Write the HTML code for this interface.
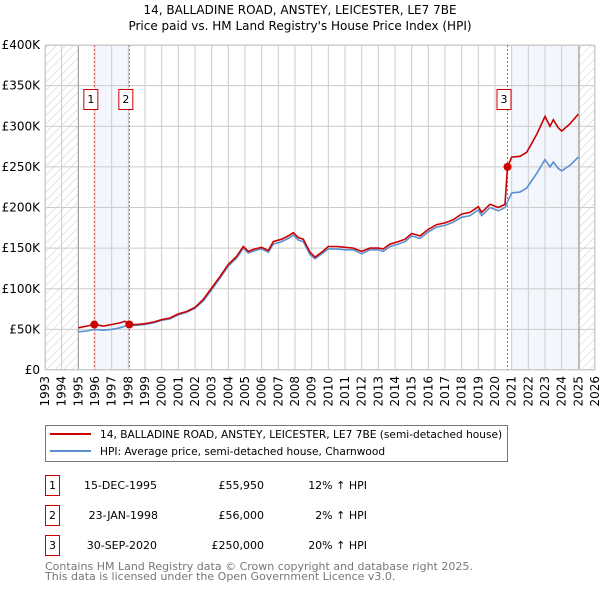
<!DOCTYPE html>
<html><head><meta charset="utf-8"><style>
body{margin:0;background:#fff;}
svg{display:block;font-family:"DejaVu Sans","Liberation Sans",sans-serif;}
</style></head><body>
<svg id="c" width="600" height="590" xmlns="http://www.w3.org/2000/svg">
<defs><pattern id="hatch" width="6" height="6" patternUnits="userSpaceOnUse" patternTransform="rotate(45)"><line x1="0" y1="0" x2="0" y2="6" stroke="#ccc" stroke-width="1"/></pattern></defs>
<text x="300" y="14" text-anchor="middle" font-size="12">14, BALLADINE ROAD, ANSTEY, LEICESTER, LE7 7BE</text>
<text x="300" y="30" text-anchor="middle" font-size="12">Price paid vs. HM Land Registry's House Price Index (HPI)</text>
<g id="plot"></g>
<g>
<rect x="45.5" y="425.5" width="462" height="36" fill="#fff" stroke="#777"/>
<line x1="50" y1="434" x2="91" y2="434" stroke="#cc0000" stroke-width="2"/>
<text x="100" y="438" font-size="10.6">14, BALLADINE ROAD, ANSTEY, LEICESTER, LE7 7BE (semi-detached house)</text>
<line x1="50" y1="451" x2="91" y2="451" stroke="#5b8fd0" stroke-width="2"/>
<text x="100" y="455" font-size="10.6">HPI: Average price, semi-detached house, Charnwood</text>
</g>
<g font-size="11">
<rect x="45.5" y="475.5" width="14" height="20" fill="#fff" stroke="#cc0000"/>
<text x="52.5" y="489" text-anchor="middle">1</text>
<text x="157" y="489" text-anchor="end">15-DEC-1995</text>
<text x="264" y="489" text-anchor="end">£55,950</text>
<text x="367" y="489" text-anchor="end">12% ↑ HPI</text>
<rect x="45.5" y="505.5" width="14" height="20" fill="#fff" stroke="#cc0000"/>
<text x="52.5" y="519" text-anchor="middle">2</text>
<text x="158" y="519" text-anchor="end">23-JAN-1998</text>
<text x="264" y="519" text-anchor="end">£56,000</text>
<text x="367" y="519" text-anchor="end">2% ↑ HPI</text>
<rect x="45.5" y="535.5" width="14" height="20" fill="#fff" stroke="#cc0000"/>
<text x="52.5" y="549" text-anchor="middle">3</text>
<text x="157" y="549" text-anchor="end">30-SEP-2020</text>
<text x="264" y="549" text-anchor="end">£250,000</text>
<text x="367" y="549" text-anchor="end">20% ↑ HPI</text>
</g>
<text x="45" y="570" font-size="11" fill="#777">Contains HM Land Registry data © Crown copyright and database right 2025.</text>
<text x="45" y="580" font-size="11" fill="#777">This data is licensed under the Open Government Licence v3.0.</text>
</svg>
<script>
const years=[1995.0,1995.5,1995.96,1996.5,1997.0,1997.5,1997.8,1998.06,1998.5,1999.0,1999.5,2000.0,2000.5,2001.0,2001.5,2002.0,2002.5,2003.0,2003.5,2004.0,2004.5,2004.9,2005.2,2005.6,2006.0,2006.4,2006.7,2007.2,2007.6,2007.9,2008.2,2008.5,2008.9,2009.2,2009.6,2010.0,2010.5,2011.0,2011.5,2012.0,2012.5,2013.0,2013.3,2013.7,2014.2,2014.6,2015.0,2015.5,2016.0,2016.5,2017.0,2017.5,2018.0,2018.5,2019.0,2019.2,2019.7,2020.2,2020.6,2020.75,2021.0,2021.5,2021.9,2022.5,2023.0,2023.3,2023.5,2023.8,2024.0,2024.5,2025.0];
const hpiValues=[47,48,50,49,50,52,54,55,55,56,58,61,63,68,71,76,85,99,113,128,138,150,144,147,149,145,155,158,162,166,160,158,142,137,143,149,149,148,148,143,148,148,146,152,155,158,165,162,170,176,178,182,188,190,197,190,200,196,200,207,218,219,224,242,259,250,256,248,245,252,262];
const priceValues=[52,54,56,54,56,58,60,56,56,57,59,62,64,69,72,77,87,101,115,130,140,152,146,149,151,147,158,161,165,169,163,161,145,139,145,152,152,151,150,146,150,150,149,155,158,161,168,165,173,179,181,185,192,194,201,194,204,200,204,250,262,263,268,290,312,300,308,298,294,303,315];
const saleYears=[1995.96,1998.06,2020.75];
const salePrices=[55.95,56,250];
const saleLabels=["1","2","3"];
const yTicks=[0,50,100,150,200,250,300,350,400];
const yTickLabels=["£0","£50K","£100K","£150K","£200K","£250K","£300K","£350K","£400K"];
const xTicks=[1993,1994,1995,1996,1997,1998,1999,2000,2001,2002,2003,2004,2005,2006,2007,2008,2009,2010,2011,2012,2013,2014,2015,2016,2017,2018,2019,2020,2021,2022,2023,2024,2025,2026];

const X0=45,X1=595,Y0=370,Y1=45;
const xs=y=>X0+(y-1993)/(2026-1993)*(X1-X0);
const ys=v=>Y0-v/400*(Y0-Y1);
const NS="http://www.w3.org/2000/svg";
const g=document.getElementById('plot');
function mk(t,a,p){const e=document.createElementNS(NS,t);for(const k in a)e.setAttribute(k,a[k]);(p||g).appendChild(e);return e;}

let e;
e=mk('rect',{x:X0,y:Y1,width:X1-X0,height:Y0-Y1,fill:'#fff'});


e=mk('rect',{x:xs(saleYears[0]),y:Y1,width:xs(saleYears[1])-xs(saleYears[0]),height:Y0-Y1,fill:'#eef3fc',opacity:0.7});


e=mk('rect',{x:xs(2021),y:Y1,width:xs(2025.05)-xs(2021),height:Y0-Y1,fill:'#eef3fc',opacity:0.7});


yTicks.forEach((t,i)=>{
  e=mk('line',{x1:X0,x2:X1,y1:ys(t),y2:ys(t),stroke:'#ccc'});
  
  
  e=mk('text',{x:X0-5,y:ys(t)+4,'text-anchor':'end','font-size':12});
  e.textContent=yTickLabels[i];
  
  
});
xTicks.forEach(t=>{
  e=mk('line',{x1:xs(t),x2:xs(t),y1:Y1,y2:Y0,stroke:'#ccc'});
  
  
  e=mk('text',{x:0,y:0,'text-anchor':'end','font-size':12,transform:`translate(${xs(t)+4},${Y0+6}) rotate(-90)`});
  e.textContent=t;
  
  
});
e=mk('rect',{x:X0,y:Y1,width:xs(1995)-X0,height:Y0-Y1,fill:'url(#hatch)'});


e=mk('rect',{x:xs(2025.05),y:Y1,width:X1-xs(2025.05),height:Y0-Y1,fill:'url(#hatch)'});


e=mk('line',{x1:xs(1995),x2:xs(1995),y1:Y1,y2:Y0,stroke:'#999'});


e=mk('line',{x1:xs(2025.05),x2:xs(2025.05),y1:Y1,y2:Y0,stroke:'#999'});


e=mk('rect',{x:X0+0.5,y:Y1+0.5,width:X1-X0-1,height:Y0-Y1-1,fill:'none',stroke:'#ccc'});


saleYears.forEach((s,i)=>{
  e=mk('line',{x1:xs(s),x2:xs(s),y1:Y1,y2:Y0,stroke:'#e05050','stroke-dasharray':'2,2'});
  
  
});
const pts=(v)=>years.map((y,i)=>xs(y).toFixed(1)+','+ys(v[i]).toFixed(1)).join(' ');
e=mk('polyline',{points:pts(hpiValues),fill:'none',stroke:'#5b8fd0','stroke-width':1.6});


e=mk('polyline',{points:pts(priceValues),fill:'none',stroke:'#cc0000','stroke-width':1.6});


saleYears.forEach((s,i)=>{
  e=mk('circle',{cx:xs(s),cy:ys(salePrices[i]),r:4,fill:'#cc0000'});
  
  
  e=mk('rect',{x:xs(s)-10.5,y:89.5,width:14,height:20,fill:'#fff',stroke:'#cc0000'});
  
  
  e=mk('text',{x:xs(s)-3.5,y:103,'text-anchor':'middle','font-size':11});
  e.textContent=saleLabels[i];
  
  
});
</script>
</body></html>
